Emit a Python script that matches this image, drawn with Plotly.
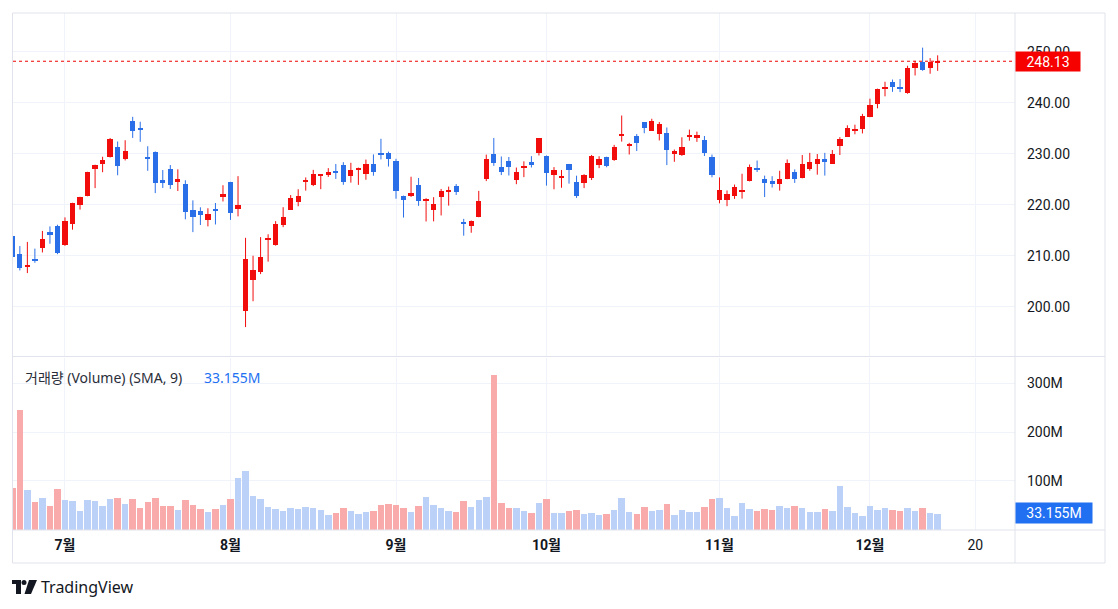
import numpy as np
import plotly.graph_objects as go

# ---------------- data (AAPL daily) ----------------
dates = [
    "2024-06-20", "2024-06-21", "2024-06-24", "2024-06-25", "2024-06-26", "2024-06-27", "2024-06-28",
    "2024-07-01", "2024-07-02", "2024-07-03", "2024-07-05", "2024-07-08", "2024-07-09", "2024-07-10",
    "2024-07-11", "2024-07-12", "2024-07-15", "2024-07-16", "2024-07-17", "2024-07-18", "2024-07-19",
    "2024-07-22", "2024-07-23", "2024-07-24", "2024-07-25", "2024-07-26", "2024-07-29", "2024-07-30",
    "2024-07-31", "2024-08-01", "2024-08-02", "2024-08-05", "2024-08-06", "2024-08-07", "2024-08-08",
    "2024-08-09", "2024-08-12", "2024-08-13", "2024-08-14", "2024-08-15", "2024-08-16", "2024-08-19",
    "2024-08-20", "2024-08-21", "2024-08-22", "2024-08-23", "2024-08-26", "2024-08-27", "2024-08-28",
    "2024-08-29", "2024-08-30", "2024-09-03", "2024-09-04", "2024-09-05", "2024-09-06", "2024-09-09",
    "2024-09-10", "2024-09-11", "2024-09-12", "2024-09-13", "2024-09-16", "2024-09-17", "2024-09-18",
    "2024-09-19", "2024-09-20", "2024-09-23", "2024-09-24", "2024-09-25", "2024-09-26", "2024-09-27",
    "2024-09-30", "2024-10-01", "2024-10-02", "2024-10-03", "2024-10-04", "2024-10-07", "2024-10-08",
    "2024-10-09", "2024-10-10", "2024-10-11", "2024-10-14", "2024-10-15", "2024-10-16", "2024-10-17",
    "2024-10-18", "2024-10-21", "2024-10-22", "2024-10-23", "2024-10-24", "2024-10-25", "2024-10-28",
    "2024-10-29", "2024-10-30", "2024-10-31", "2024-11-01", "2024-11-04", "2024-11-05", "2024-11-06",
    "2024-11-07", "2024-11-08", "2024-11-11", "2024-11-12", "2024-11-13", "2024-11-14", "2024-11-15",
    "2024-11-18", "2024-11-19", "2024-11-20", "2024-11-21", "2024-11-22", "2024-11-25", "2024-11-26",
    "2024-11-27", "2024-11-29", "2024-12-02", "2024-12-03", "2024-12-04", "2024-12-05", "2024-12-06",
    "2024-12-09", "2024-12-10", "2024-12-11", "2024-12-12", "2024-12-13",
]
opens = [
    213.93, 210.39, 207.72, 209.15, 211.50, 214.69, 215.77,
    212.09, 216.15, 220.00, 221.65, 227.09, 227.93, 229.30, 231.39, 228.92, 236.48, 235.00, 229.45, 230.28,
    224.82, 227.01, 224.37, 224.00, 218.93, 218.70, 216.96, 219.19, 221.44,
    224.37, 219.15, 199.09, 205.30, 206.90, 213.11, 212.10, 216.07, 219.01, 220.57, 224.60, 223.92, 225.72,
    225.77, 226.52, 227.79, 225.66, 226.76, 226.00, 227.92, 230.10, 230.19,
    228.55, 221.66, 221.63, 223.95, 220.82, 218.92, 221.46, 222.50, 223.58, 216.54, 215.75, 217.55, 224.99,
    229.97, 227.34, 228.65, 224.93, 227.30, 228.46, 230.04,
    229.52, 225.89, 225.14, 227.90, 224.50, 224.30, 225.23, 227.78, 229.30, 228.70, 233.61, 231.60, 233.43,
    236.18, 234.45, 233.89, 234.08, 229.98, 229.74, 233.32, 233.10, 232.61, 229.34,
    220.97, 220.99, 221.80, 222.61, 224.63, 227.17, 225.00, 224.55, 224.01, 225.02, 226.40, 225.25, 226.98,
    228.06, 228.88, 228.06, 231.46, 233.33, 234.47, 234.81,
    237.27, 239.81, 242.87, 243.99, 242.91, 241.83, 246.89, 247.96, 246.89, 247.82,
]
highs = [
    214.24, 211.89, 212.70, 211.38, 214.86, 215.74, 216.07,
    217.51, 220.38, 221.55, 226.45, 227.85, 229.40, 233.08, 232.39, 232.64, 237.23, 236.27, 231.46, 230.44,
    226.80, 227.78, 226.94, 224.80, 220.85, 219.49, 219.30, 220.33, 223.82,
    224.48, 225.60, 213.50, 209.99, 213.64, 214.20, 216.78, 219.51, 221.89, 223.03, 225.35, 226.83, 225.99,
    227.17, 227.98, 228.34, 228.22, 227.28, 228.85, 229.86, 232.92, 230.40,
    229.00, 221.78, 225.48, 225.24, 221.27, 221.48, 223.09, 223.55, 224.04, 217.22, 216.90, 222.71, 229.82,
    233.09, 229.45, 229.35, 227.29, 228.50, 229.52, 233.00,
    229.65, 227.37, 226.81, 228.00, 225.69, 225.98, 229.75, 229.50, 229.41, 231.73, 237.49, 232.12, 233.85,
    236.18, 236.85, 236.22, 235.14, 230.82, 233.22, 234.73, 234.33, 233.47, 229.83,
    225.35, 222.79, 223.95, 226.07, 227.88, 228.66, 225.70, 225.59, 226.65, 228.87, 226.92, 229.74, 230.16,
    229.93, 230.16, 230.72, 233.25, 235.57, 235.69, 237.81,
    240.79, 242.76, 244.11, 244.54, 244.63, 247.24, 248.21, 250.80, 248.74, 249.29,
]
lows = [
    208.85, 207.11, 206.59, 208.61, 210.64, 212.35, 210.30,
    211.92, 215.10, 219.03, 221.65, 223.25, 226.37, 229.25, 225.77, 228.68, 233.09, 232.33, 226.64, 222.27,
    223.28, 223.09, 222.68, 217.13, 214.62, 216.01, 215.75, 216.12, 220.63,
    217.02, 217.71, 196.00, 201.07, 206.39, 208.83, 211.97, 215.60, 219.01, 219.70, 222.76, 223.65, 223.04,
    225.45, 225.05, 223.90, 224.33, 223.89, 224.89, 225.68, 228.88, 227.48,
    221.17, 217.48, 221.52, 219.77, 216.71, 216.73, 217.89, 219.82, 221.91, 213.92, 214.50, 217.54, 224.63,
    227.62, 225.81, 225.73, 224.02, 225.41, 227.30, 229.65,
    223.74, 223.02, 223.32, 224.13, 221.33, 223.25, 224.83, 227.17, 227.34, 228.60, 232.37, 229.84, 230.52,
    234.01, 234.45, 232.60, 227.76, 228.41, 229.57, 232.55, 232.32, 229.55, 225.37,
    220.27, 219.71, 221.14, 221.19, 224.57, 226.41, 221.50, 223.36, 222.76, 225.00, 224.27, 225.17, 226.66,
    225.89, 225.71, 228.06, 229.74, 233.33, 233.81, 233.97,
    237.16, 238.90, 241.25, 242.13, 242.08, 241.75, 245.34, 246.26, 245.68, 246.24,
]
closes = [
    209.68, 207.49, 208.14, 209.07, 213.25, 214.10, 210.62,
    216.75, 220.27, 221.55, 226.34, 227.82, 228.68, 232.98, 227.57, 230.54, 234.40, 234.82, 228.88, 224.18,
    224.31, 223.96, 225.01, 218.54, 217.49, 217.96, 218.24, 218.80, 222.08,
    218.36, 219.86, 209.27, 207.23, 209.82, 213.31, 216.24, 217.53, 221.27, 221.72, 224.72, 226.05, 225.89,
    226.51, 226.40, 224.53, 226.84, 227.18, 228.03, 226.49, 229.79, 229.00,
    222.77, 220.85, 222.38, 220.82, 220.91, 220.11, 222.66, 222.77, 222.50, 216.32, 216.79, 220.69, 228.87,
    228.20, 226.47, 227.37, 226.37, 227.52, 227.79, 233.00,
    226.21, 226.78, 225.67, 226.80, 221.69, 225.77, 229.54, 229.04, 227.55, 231.30, 233.85, 231.78, 232.15,
    235.00, 236.48, 235.86, 230.76, 230.57, 231.41, 233.40, 233.67, 230.10, 225.91,
    222.91, 222.01, 223.45, 222.72, 227.48, 226.96, 224.23, 224.23, 225.12, 228.22, 225.00, 228.02, 228.28,
    229.00, 228.52, 229.87, 232.87, 235.06, 234.93, 237.33,
    239.59, 242.65, 243.01, 243.04, 242.84, 246.75, 247.77, 246.49, 247.96, 248.13,
]
volumes_m = [
    87.0, 246.4, 81.0, 57.5, 66.5, 50.0, 83.0,
    61.5, 58.5, 38.0, 61.5, 60.0, 49.5, 63.5, 65.5, 54.0, 63.5, 44.0, 58.0, 66.0,
    50.0, 49.5, 41.5, 62.0, 52.0, 42.0, 37.5, 42.0, 51.5,
    64.0, 105.6, 120.0, 70.0, 64.0, 48.0, 43.5, 39.5, 45.5, 43.5, 47.0, 45.5, 41.5,
    31.5, 35.5, 44.0, 39.5, 32.0, 37.0, 39.5, 52.0, 53.5,
    51.5, 44.5, 37.5, 49.5, 68.0, 52.0, 45.5, 38.0, 37.5, 60.0, 46.5, 60.5, 68.0,
    319.0, 54.5, 44.5, 44.0, 38.0, 35.5, 56.0,
    64.0, 34.0, 35.5, 38.5, 40.5, 33.0, 35.0, 30.0, 33.0, 41.5, 66.0, 36.0, 33.5,
    47.5, 38.0, 40.0, 53.5, 31.5, 40.0, 37.5, 36.5, 48.0, 64.5,
    66.0, 45.5, 29.5, 55.5, 43.5, 39.5, 43.5, 41.5, 49.5, 46.0, 48.5, 46.0, 37.5,
    36.5, 43.5, 39.5, 91.0, 47.0, 34.5, 29.5,
    49.5, 40.0, 45.5, 41.5, 38.0, 45.5, 38.0, 46.0, 34.0, 33.155,
]
month_names = {7: "7월", 8: "8월", 9: "9월", 10: "10월", 11: "11월", 12: "12월"}
future_tick_date = "2024-12-20"
future_tick_label = "20"
price_ticks = [200, 210, 220, 230, 240, 250]
volume_ticks_m = [100, 200, 300]
volume_legend = "거래량 (Volume) (SMA, 9)"

# ---------------- styling ----------------
UP = "#f20d0d"
DOWN = "#2a6fe8"
VOL_UP = "#bcd1f7"
VOL_DOWN = "#f9abab"
GRID = "#f0f3fa"
BORDER = "#e0e3eb"
TEXT = "#131722"
FONT = "Roboto, 'Noto Sans CJK KR', sans-serif"
LEGEND_FONT = "'Noto Sans', 'Noto Sans CJK KR', sans-serif"

W, H = 1118, 609
PL, PR, PT, PB = 13, 1015, 13, 530          # plot area in pixels
def xp(px):
    return (px - PL) / (PR - PL)
def yp(py):
    return (PB - py) / (PB - PT)

n = len(dates)
idx = np.arange(n)
o = np.array(opens); h = np.array(highs); l = np.array(lows); c = np.array(closes)
v = np.array(volumes_m)
up = c >= o

# tick positions: first trading day of each month, plus a future date
months = [int(d[5:7]) for d in dates]
tick_vals, tick_text = [], []
for i in range(1, n):
    if months[i] != months[i - 1] and months[i] in month_names:
        tick_vals.append(i)
        tick_text.append("<b>" + month_names[months[i]] + "</b>")
tick_vals.append(n - 1 + int(np.busday_count(dates[-1], future_tick_date)))
tick_text.append(future_tick_label)

fig = go.Figure()

# wicks
for mask, col in ((up, UP), (~up, DOWN)):
    wx, wy = [], []
    for i in idx[mask]:
        wx += [i, i, None]
        wy += [l[i], h[i], None]
    fig.add_trace(go.Scatter(x=wx, y=wy, mode="lines", line=dict(color=col, width=1),
                             hoverinfo="skip", showlegend=False, xaxis="x", yaxis="y"))

# bodies
body_base = np.minimum(o, c)
body_h = np.maximum(np.abs(c - o), 0.18)
fig.add_trace(go.Bar(x=idx, y=body_h, base=body_base, width=0.7,
                     marker=dict(color=np.where(up, UP, DOWN).tolist(), line=dict(width=0)),
                     showlegend=False, xaxis="x", yaxis="y"))

# volume
fig.add_trace(go.Bar(x=idx, y=v, width=0.86,
                     marker=dict(color=np.where(up, VOL_UP, VOL_DOWN).tolist(), line=dict(width=0)),
                     showlegend=False, xaxis="x2", yaxis="y2"))

xr = [0.09, 133.28]
fig.update_layout(
    width=W, height=H,
    margin=dict(l=PL, r=W - PR, t=PT, b=H - PB),
    paper_bgcolor="white", plot_bgcolor="white",
    barmode="overlay", bargap=0,
    font=dict(family=FONT, size=14, color=TEXT),
    xaxis=dict(domain=[0, 1], anchor="y", range=xr, matches="x2", showticklabels=False,
               tickvals=tick_vals, showgrid=True, gridcolor=GRID, zeroline=False, fixedrange=True),
    yaxis=dict(domain=[yp(356), 1], range=[190.33, 257.59], side="right",
               tickvals=price_ticks, ticktext=[f"{t:.2f}" for t in price_ticks],
               showgrid=True, gridcolor=GRID, zeroline=False, ticks="", ticklabelstandoff=11,
               tickfont=dict(size=14, color=TEXT)),
    xaxis2=dict(domain=[0, 1], anchor="y2", range=xr, tickvals=tick_vals, ticktext=tick_text,
                showgrid=True, gridcolor=GRID, zeroline=False, ticks="", ticklabelstandoff=5,
                tickfont=dict(size=14, color=TEXT)),
    yaxis2=dict(domain=[0, yp(357.5)], range=[-1.2, 353.0], side="right",
                tickvals=volume_ticks_m, ticktext=[f"{t}M" for t in volume_ticks_m],
                showgrid=True, gridcolor=GRID, zeroline=False, ticks="", ticklabelstandoff=11,
                tickfont=dict(size=14, color=TEXT)),
)

shapes = [
    # last price dotted line
    dict(type="line", xref="paper", yref="y", x0=0, x1=1, y0=c[-1], y1=c[-1],
         line=dict(color="#f00000", width=1, dash="dot")),
    # outer frame
    dict(type="rect", xref="paper", yref="paper", x0=xp(12.5), x1=xp(1105), y0=yp(563), y1=yp(13),
         line=dict(color=BORDER, width=1)),
    # pane / axis separators
    dict(type="line", xref="paper", yref="paper", x0=1, x1=1, y0=yp(563), y1=yp(13),
         line=dict(color=BORDER, width=1)),
    dict(type="line", xref="paper", yref="paper", x0=xp(12.5), x1=xp(1105), y0=yp(356.5), y1=yp(356.5),
         line=dict(color=BORDER, width=1)),
    dict(type="line", xref="paper", yref="paper", x0=xp(12.5), x1=xp(1105), y0=yp(530), y1=yp(530),
         line=dict(color=BORDER, width=1)),
    # TradingView logo
    dict(type="rect", xref="paper", yref="paper", x0=xp(12), x1=xp(21), y0=yp(584), y1=yp(580),
         fillcolor=TEXT, line=dict(width=0)),
    dict(type="rect", xref="paper", yref="paper", x0=xp(16), x1=xp(21), y0=yp(594), y1=yp(580),
         fillcolor=TEXT, line=dict(width=0)),
    dict(type="circle", xref="paper", yref="paper", x0=xp(21.5), x1=xp(26.5), y0=yp(585), y1=yp(580),
         fillcolor=TEXT, line=dict(width=0)),
    dict(type="path", xref="paper", yref="paper",
         path=f"M {xp(29)} {yp(580)} L {xp(37)} {yp(580)} L {xp(31)} {yp(594)} L {xp(24.5)} {yp(594)} Z",
         fillcolor=TEXT, line=dict(width=0)),
]
fig.update_layout(shapes=shapes)

annotations = [
    dict(xref="paper", yref="y", x=1, y=c[-1], xanchor="left", yanchor="middle",
         text=f"{c[-1]:.2f}", showarrow=False, bgcolor="#f70000", borderpad=2, width=60, height=15,
         align="center", font=dict(color="white", size=14, family=FONT)),
    dict(xref="paper", yref="y2", x=1, y=v[-1], xanchor="left", yanchor="middle",
         text=f"{v[-1]:.3f}M", showarrow=False, bgcolor="#2170f2", borderpad=2, width=72, height=16,
         align="center", font=dict(color="white", size=14, family=FONT)),
    dict(xref="paper", yref="paper", x=xp(23), y=yp(377), xanchor="left", yanchor="middle",
         text=volume_legend, showarrow=False, font=dict(size=14, color="#2a2e39", family=LEGEND_FONT)),
    dict(xref="paper", yref="paper", x=xp(202), y=yp(377), xanchor="left", yanchor="middle",
         text=f"{v[-1]:.3f}M", showarrow=False, font=dict(size=14, color="#2170f2", family=LEGEND_FONT)),
    dict(xref="paper", yref="paper", x=xp(39), y=yp(587), xanchor="left", yanchor="middle",
         text="TradingView", showarrow=False, font=dict(size=16, color=TEXT, family=LEGEND_FONT)),
]
fig.update_layout(annotations=annotations)

fig.write_html("out.html", config={"displayModeBar": False},
               post_script="document.body.style.margin='0';document.body.style.overflow='hidden';")
